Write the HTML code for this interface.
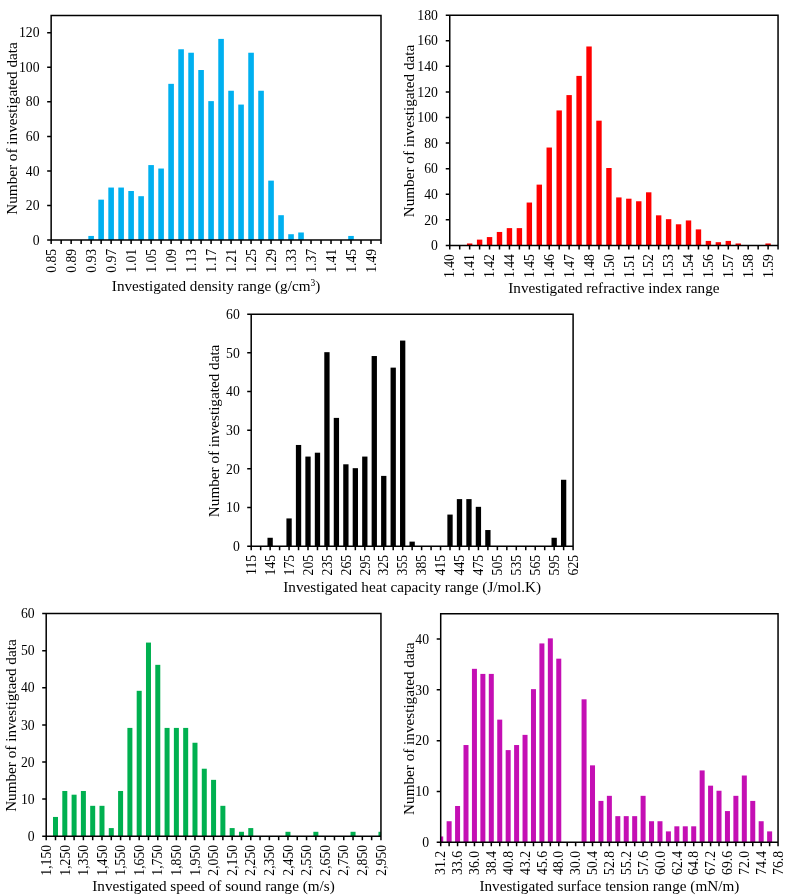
<!DOCTYPE html>
<html><head><meta charset="utf-8"><style>
html,body{margin:0;padding:0;background:#fff;}
svg{display:block;font-family:"Liberation Serif", serif;will-change:transform;}
</style></head><body>
<svg width="794" height="896" viewBox="0 0 794 896">
<rect width="794" height="896" fill="#fff"/>
<clipPath id="clipc1"><rect x="51.15" y="15.4" width="329.85" height="224.7"/></clipPath>
<g fill="#00B0F0" clip-path="url(#clipc1)"><rect x="88.33" y="235.94" width="5.6" height="4.16"/><rect x="98.33" y="199.65" width="5.6" height="40.45"/><rect x="108.32" y="187.55" width="5.6" height="52.55"/><rect x="118.32" y="187.55" width="5.6" height="52.55"/><rect x="128.31" y="191" width="5.6" height="49.1"/><rect x="138.31" y="196.19" width="5.6" height="43.91"/><rect x="148.3" y="165.08" width="5.6" height="75.02"/><rect x="158.3" y="168.53" width="5.6" height="71.57"/><rect x="168.3" y="83.84" width="5.6" height="156.26"/><rect x="178.29" y="49.27" width="5.6" height="190.83"/><rect x="188.29" y="52.73" width="5.6" height="187.37"/><rect x="198.28" y="70.01" width="5.6" height="170.09"/><rect x="208.28" y="101.12" width="5.6" height="138.98"/><rect x="218.27" y="38.9" width="5.6" height="201.2"/><rect x="228.27" y="90.75" width="5.6" height="149.35"/><rect x="238.26" y="104.58" width="5.6" height="135.52"/><rect x="248.26" y="52.73" width="5.6" height="187.37"/><rect x="258.25" y="90.75" width="5.6" height="149.35"/><rect x="268.25" y="180.63" width="5.6" height="59.47"/><rect x="278.25" y="215.2" width="5.6" height="24.9"/><rect x="288.24" y="234.21" width="5.6" height="5.89"/><rect x="298.24" y="232.49" width="5.6" height="7.61"/><rect x="348.21" y="235.94" width="5.6" height="4.16"/></g>
<path d="M51.15 15.4H381V240.1H51.15ZM47.15 240.1H51.15M47.15 205.53H51.15M47.15 170.96H51.15M47.15 136.39H51.15M47.15 101.82H51.15M47.15 67.25H51.15M47.15 32.68H51.15M51.15 240.1V244.1M61.15 240.1V244.1M71.14 240.1V244.1M81.14 240.1V244.1M91.13 240.1V244.1M101.13 240.1V244.1M111.12 240.1V244.1M121.12 240.1V244.1M131.11 240.1V244.1M141.11 240.1V244.1M151.1 240.1V244.1M161.1 240.1V244.1M171.1 240.1V244.1M181.09 240.1V244.1M191.09 240.1V244.1M201.08 240.1V244.1M211.08 240.1V244.1M221.07 240.1V244.1M231.07 240.1V244.1M241.06 240.1V244.1M251.06 240.1V244.1M261.05 240.1V244.1M271.05 240.1V244.1M281.05 240.1V244.1M291.04 240.1V244.1M301.04 240.1V244.1M311.03 240.1V244.1M321.03 240.1V244.1M331.02 240.1V244.1M341.02 240.1V244.1M351.01 240.1V244.1M361.01 240.1V244.1M371 240.1V244.1M381 240.1V244.1" fill="none" stroke="#000" stroke-width="1.5"/>
<g font-size="13.7" fill="#000"><text x="39.5" y="244.75" text-anchor="end">0</text><text x="39.5" y="210.18" text-anchor="end">20</text><text x="39.5" y="175.61" text-anchor="end">40</text><text x="39.5" y="141.04" text-anchor="end">60</text><text x="39.5" y="106.47" text-anchor="end">80</text><text x="39.5" y="71.9" text-anchor="end">100</text><text x="39.5" y="37.33" text-anchor="end">120</text><text transform="translate(55.85 248.8) rotate(-90)" text-anchor="end">0.85</text><text transform="translate(75.84 248.8) rotate(-90)" text-anchor="end">0.89</text><text transform="translate(95.83 248.8) rotate(-90)" text-anchor="end">0.93</text><text transform="translate(115.82 248.8) rotate(-90)" text-anchor="end">0.97</text><text transform="translate(135.81 248.8) rotate(-90)" text-anchor="end">1.01</text><text transform="translate(155.8 248.8) rotate(-90)" text-anchor="end">1.05</text><text transform="translate(175.8 248.8) rotate(-90)" text-anchor="end">1.09</text><text transform="translate(195.79 248.8) rotate(-90)" text-anchor="end">1.13</text><text transform="translate(215.78 248.8) rotate(-90)" text-anchor="end">1.17</text><text transform="translate(235.77 248.8) rotate(-90)" text-anchor="end">1.21</text><text transform="translate(255.76 248.8) rotate(-90)" text-anchor="end">1.25</text><text transform="translate(275.75 248.8) rotate(-90)" text-anchor="end">1.29</text><text transform="translate(295.74 248.8) rotate(-90)" text-anchor="end">1.33</text><text transform="translate(315.73 248.8) rotate(-90)" text-anchor="end">1.37</text><text transform="translate(335.72 248.8) rotate(-90)" text-anchor="end">1.41</text><text transform="translate(355.71 248.8) rotate(-90)" text-anchor="end">1.45</text><text transform="translate(375.7 248.8) rotate(-90)" text-anchor="end">1.49</text></g>
<text x="216.07" y="290.9" text-anchor="middle" font-size="15.2">Investigated density range (g/cm<tspan baseline-shift="super" font-size="9.5">3</tspan>)</text>
<text transform="translate(17 128.45) rotate(-90)" text-anchor="middle" font-size="15.2">Number of investigated data</text>
<clipPath id="clipc2"><rect x="449.75" y="15.2" width="328.3" height="230.25"/></clipPath>
<g fill="#FF0000" clip-path="url(#clipc2)"><rect x="466.95" y="243.47" width="5.4" height="1.98"/><rect x="476.9" y="239.63" width="5.4" height="5.82"/><rect x="486.84" y="237.07" width="5.4" height="8.37"/><rect x="496.79" y="231.96" width="5.4" height="13.49"/><rect x="506.74" y="228.12" width="5.4" height="17.33"/><rect x="516.69" y="228.12" width="5.4" height="17.33"/><rect x="526.64" y="202.54" width="5.4" height="42.91"/><rect x="536.59" y="184.63" width="5.4" height="60.82"/><rect x="546.53" y="147.53" width="5.4" height="97.92"/><rect x="556.48" y="110.44" width="5.4" height="135.01"/><rect x="566.43" y="95.09" width="5.4" height="150.36"/><rect x="576.38" y="75.9" width="5.4" height="169.55"/><rect x="586.33" y="46.48" width="5.4" height="198.97"/><rect x="596.28" y="120.67" width="5.4" height="124.78"/><rect x="606.23" y="168" width="5.4" height="77.45"/><rect x="616.17" y="197.42" width="5.4" height="48.03"/><rect x="626.12" y="198.7" width="5.4" height="46.75"/><rect x="636.07" y="201.26" width="5.4" height="44.19"/><rect x="646.02" y="192.3" width="5.4" height="53.15"/><rect x="655.97" y="215.33" width="5.4" height="30.12"/><rect x="665.92" y="219.17" width="5.4" height="26.28"/><rect x="675.87" y="224.28" width="5.4" height="21.17"/><rect x="685.81" y="220.45" width="5.4" height="25"/><rect x="695.76" y="229.4" width="5.4" height="16.05"/><rect x="705.71" y="240.91" width="5.4" height="4.54"/><rect x="715.66" y="242.19" width="5.4" height="3.26"/><rect x="725.61" y="240.91" width="5.4" height="4.54"/><rect x="735.56" y="243.47" width="5.4" height="1.98"/><rect x="765.4" y="243.47" width="5.4" height="1.98"/></g>
<path d="M449.75 15.2H778.05V245.45H449.75ZM445.75 245.45H449.75M445.75 219.87H449.75M445.75 194.28H449.75M445.75 168.7H449.75M445.75 143.12H449.75M445.75 117.53H449.75M445.75 91.95H449.75M445.75 66.37H449.75M445.75 40.78H449.75M445.75 15.2H449.75M449.75 245.45V249.45M459.7 245.45V249.45M469.65 245.45V249.45M479.6 245.45V249.45M489.54 245.45V249.45M499.49 245.45V249.45M509.44 245.45V249.45M519.39 245.45V249.45M529.34 245.45V249.45M539.29 245.45V249.45M549.23 245.45V249.45M559.18 245.45V249.45M569.13 245.45V249.45M579.08 245.45V249.45M589.03 245.45V249.45M598.98 245.45V249.45M608.93 245.45V249.45M618.87 245.45V249.45M628.82 245.45V249.45M638.77 245.45V249.45M648.72 245.45V249.45M658.67 245.45V249.45M668.62 245.45V249.45M678.57 245.45V249.45M688.51 245.45V249.45M698.46 245.45V249.45M708.41 245.45V249.45M718.36 245.45V249.45M728.31 245.45V249.45M738.26 245.45V249.45M748.2 245.45V249.45M758.15 245.45V249.45M768.1 245.45V249.45M778.05 245.45V249.45" fill="none" stroke="#000" stroke-width="1.5"/>
<g font-size="13.7" fill="#000"><text x="437.9" y="250.1" text-anchor="end">0</text><text x="437.9" y="224.52" text-anchor="end">20</text><text x="437.9" y="198.93" text-anchor="end">40</text><text x="437.9" y="173.35" text-anchor="end">60</text><text x="437.9" y="147.77" text-anchor="end">80</text><text x="437.9" y="122.18" text-anchor="end">100</text><text x="437.9" y="96.6" text-anchor="end">120</text><text x="437.9" y="71.02" text-anchor="end">140</text><text x="437.9" y="45.43" text-anchor="end">160</text><text x="437.9" y="19.85" text-anchor="end">180</text><text transform="translate(454.45 254.15) rotate(-90)" text-anchor="end">1.40</text><text transform="translate(474.35 254.15) rotate(-90)" text-anchor="end">1.41</text><text transform="translate(494.24 254.15) rotate(-90)" text-anchor="end">1.42</text><text transform="translate(514.14 254.15) rotate(-90)" text-anchor="end">1.44</text><text transform="translate(534.04 254.15) rotate(-90)" text-anchor="end">1.45</text><text transform="translate(553.93 254.15) rotate(-90)" text-anchor="end">1.46</text><text transform="translate(573.83 254.15) rotate(-90)" text-anchor="end">1.47</text><text transform="translate(593.73 254.15) rotate(-90)" text-anchor="end">1.48</text><text transform="translate(613.63 254.15) rotate(-90)" text-anchor="end">1.50</text><text transform="translate(633.52 254.15) rotate(-90)" text-anchor="end">1.51</text><text transform="translate(653.42 254.15) rotate(-90)" text-anchor="end">1.52</text><text transform="translate(673.32 254.15) rotate(-90)" text-anchor="end">1.53</text><text transform="translate(693.21 254.15) rotate(-90)" text-anchor="end">1.54</text><text transform="translate(713.11 254.15) rotate(-90)" text-anchor="end">1.56</text><text transform="translate(733.01 254.15) rotate(-90)" text-anchor="end">1.57</text><text transform="translate(752.9 254.15) rotate(-90)" text-anchor="end">1.58</text><text transform="translate(772.8 254.15) rotate(-90)" text-anchor="end">1.59</text></g>
<text x="613.9" y="292.7" text-anchor="middle" font-size="15.2">Investigated refractive index range</text>
<text transform="translate(413.7 131.02) rotate(-90)" text-anchor="middle" font-size="15.2">Number of investigated data</text>
<clipPath id="clipc3"><rect x="251.2" y="314.2" width="321.9" height="232"/></clipPath>
<g fill="#000000" clip-path="url(#clipc3)"><rect x="267.49" y="537.77" width="5.3" height="8.43"/><rect x="286.42" y="518.43" width="5.3" height="27.77"/><rect x="295.89" y="444.97" width="5.3" height="101.23"/><rect x="305.36" y="456.57" width="5.3" height="89.63"/><rect x="314.82" y="452.7" width="5.3" height="93.5"/><rect x="324.29" y="352.17" width="5.3" height="194.03"/><rect x="333.76" y="417.9" width="5.3" height="128.3"/><rect x="343.23" y="464.3" width="5.3" height="81.9"/><rect x="352.69" y="468.17" width="5.3" height="78.03"/><rect x="362.16" y="456.57" width="5.3" height="89.63"/><rect x="371.63" y="356.03" width="5.3" height="190.17"/><rect x="381.1" y="475.9" width="5.3" height="70.3"/><rect x="390.56" y="367.63" width="5.3" height="178.57"/><rect x="400.03" y="340.57" width="5.3" height="205.63"/><rect x="409.5" y="541.63" width="5.3" height="4.57"/><rect x="447.37" y="514.57" width="5.3" height="31.63"/><rect x="456.84" y="499.1" width="5.3" height="47.1"/><rect x="466.31" y="499.1" width="5.3" height="47.1"/><rect x="475.77" y="506.83" width="5.3" height="39.37"/><rect x="485.24" y="530.03" width="5.3" height="16.17"/><rect x="551.51" y="537.77" width="5.3" height="8.43"/><rect x="560.98" y="479.77" width="5.3" height="66.43"/></g>
<path d="M251.2 314.2H573.1V546.2H251.2ZM247.2 546.2H251.2M247.2 507.53H251.2M247.2 468.87H251.2M247.2 430.2H251.2M247.2 391.53H251.2M247.2 352.87H251.2M247.2 314.2H251.2M251.2 546.2V550.2M260.67 546.2V550.2M270.14 546.2V550.2M279.6 546.2V550.2M289.07 546.2V550.2M298.54 546.2V550.2M308.01 546.2V550.2M317.47 546.2V550.2M326.94 546.2V550.2M336.41 546.2V550.2M345.88 546.2V550.2M355.34 546.2V550.2M364.81 546.2V550.2M374.28 546.2V550.2M383.75 546.2V550.2M393.21 546.2V550.2M402.68 546.2V550.2M412.15 546.2V550.2M421.62 546.2V550.2M431.09 546.2V550.2M440.55 546.2V550.2M450.02 546.2V550.2M459.49 546.2V550.2M468.96 546.2V550.2M478.42 546.2V550.2M487.89 546.2V550.2M497.36 546.2V550.2M506.83 546.2V550.2M516.29 546.2V550.2M525.76 546.2V550.2M535.23 546.2V550.2M544.7 546.2V550.2M554.16 546.2V550.2M563.63 546.2V550.2M573.1 546.2V550.2" fill="none" stroke="#000" stroke-width="1.5"/>
<g font-size="13.7" fill="#000"><text x="239.8" y="550.85" text-anchor="end">0</text><text x="239.8" y="512.18" text-anchor="end">10</text><text x="239.8" y="473.52" text-anchor="end">20</text><text x="239.8" y="434.85" text-anchor="end">30</text><text x="239.8" y="396.18" text-anchor="end">40</text><text x="239.8" y="357.52" text-anchor="end">50</text><text x="239.8" y="318.85" text-anchor="end">60</text><text transform="translate(255.9 554.9) rotate(-90)" text-anchor="end">115</text><text transform="translate(274.84 554.9) rotate(-90)" text-anchor="end">145</text><text transform="translate(293.77 554.9) rotate(-90)" text-anchor="end">175</text><text transform="translate(312.71 554.9) rotate(-90)" text-anchor="end">205</text><text transform="translate(331.64 554.9) rotate(-90)" text-anchor="end">235</text><text transform="translate(350.58 554.9) rotate(-90)" text-anchor="end">265</text><text transform="translate(369.51 554.9) rotate(-90)" text-anchor="end">295</text><text transform="translate(388.45 554.9) rotate(-90)" text-anchor="end">325</text><text transform="translate(407.38 554.9) rotate(-90)" text-anchor="end">355</text><text transform="translate(426.32 554.9) rotate(-90)" text-anchor="end">385</text><text transform="translate(445.25 554.9) rotate(-90)" text-anchor="end">415</text><text transform="translate(464.19 554.9) rotate(-90)" text-anchor="end">445</text><text transform="translate(483.12 554.9) rotate(-90)" text-anchor="end">475</text><text transform="translate(502.06 554.9) rotate(-90)" text-anchor="end">505</text><text transform="translate(520.99 554.9) rotate(-90)" text-anchor="end">535</text><text transform="translate(539.93 554.9) rotate(-90)" text-anchor="end">565</text><text transform="translate(558.86 554.9) rotate(-90)" text-anchor="end">595</text><text transform="translate(577.8 554.9) rotate(-90)" text-anchor="end">625</text></g>
<text x="412.15" y="591.8" text-anchor="middle" font-size="15.2">Investigated heat capacity range (J/mol.K)</text>
<text transform="translate(218.5 430.9) rotate(-90)" text-anchor="middle" font-size="15.2">Number of investigated data</text>
<clipPath id="clipc4"><rect x="46.2" y="613.6" width="334.75" height="222.6"/></clipPath>
<g fill="#00B050" clip-path="url(#clipc4)"><rect x="53" y="816.95" width="5" height="19.25"/><rect x="62.3" y="790.98" width="5" height="45.22"/><rect x="71.6" y="794.69" width="5" height="41.51"/><rect x="80.89" y="790.98" width="5" height="45.22"/><rect x="90.19" y="805.82" width="5" height="30.38"/><rect x="99.49" y="805.82" width="5" height="30.38"/><rect x="108.79" y="828.08" width="5" height="8.12"/><rect x="118.09" y="790.98" width="5" height="45.22"/><rect x="127.39" y="727.91" width="5" height="108.29"/><rect x="136.69" y="690.81" width="5" height="145.39"/><rect x="145.98" y="642.58" width="5" height="193.62"/><rect x="155.28" y="664.84" width="5" height="171.36"/><rect x="164.58" y="727.91" width="5" height="108.29"/><rect x="173.88" y="727.91" width="5" height="108.29"/><rect x="183.18" y="727.91" width="5" height="108.29"/><rect x="192.48" y="742.75" width="5" height="93.45"/><rect x="201.78" y="768.72" width="5" height="67.48"/><rect x="211.07" y="779.85" width="5" height="56.35"/><rect x="220.37" y="805.82" width="5" height="30.38"/><rect x="229.67" y="828.08" width="5" height="8.12"/><rect x="238.97" y="831.79" width="5" height="4.41"/><rect x="248.27" y="828.08" width="5" height="8.12"/><rect x="285.46" y="831.79" width="5" height="4.41"/><rect x="313.36" y="831.79" width="5" height="4.41"/><rect x="350.55" y="831.79" width="5" height="4.41"/><rect x="378.45" y="831.79" width="5" height="4.41"/></g>
<path d="M46.2 613.6H380.95V836.2H46.2ZM42.2 836.2H46.2M42.2 799.1H46.2M42.2 762H46.2M42.2 724.9H46.2M42.2 687.8H46.2M42.2 650.7H46.2M42.2 613.6H46.2M46.2 836.2V840.2M55.5 836.2V840.2M64.8 836.2V840.2M74.1 836.2V840.2M83.39 836.2V840.2M92.69 836.2V840.2M101.99 836.2V840.2M111.29 836.2V840.2M120.59 836.2V840.2M129.89 836.2V840.2M139.19 836.2V840.2M148.48 836.2V840.2M157.78 836.2V840.2M167.08 836.2V840.2M176.38 836.2V840.2M185.68 836.2V840.2M194.98 836.2V840.2M204.28 836.2V840.2M213.57 836.2V840.2M222.87 836.2V840.2M232.17 836.2V840.2M241.47 836.2V840.2M250.77 836.2V840.2M260.07 836.2V840.2M269.37 836.2V840.2M278.67 836.2V840.2M287.96 836.2V840.2M297.26 836.2V840.2M306.56 836.2V840.2M315.86 836.2V840.2M325.16 836.2V840.2M334.46 836.2V840.2M343.76 836.2V840.2M353.05 836.2V840.2M362.35 836.2V840.2M371.65 836.2V840.2M380.95 836.2V840.2" fill="none" stroke="#000" stroke-width="1.5"/>
<g font-size="13.7" fill="#000"><text x="34.6" y="840.85" text-anchor="end">0</text><text x="34.6" y="803.75" text-anchor="end">10</text><text x="34.6" y="766.65" text-anchor="end">20</text><text x="34.6" y="729.55" text-anchor="end">30</text><text x="34.6" y="692.45" text-anchor="end">40</text><text x="34.6" y="655.35" text-anchor="end">50</text><text x="34.6" y="618.25" text-anchor="end">60</text><text transform="translate(50.9 844.9) rotate(-90)" text-anchor="end">1,150</text><text transform="translate(69.5 844.9) rotate(-90)" text-anchor="end">1,250</text><text transform="translate(88.09 844.9) rotate(-90)" text-anchor="end">1,350</text><text transform="translate(106.69 844.9) rotate(-90)" text-anchor="end">1,450</text><text transform="translate(125.29 844.9) rotate(-90)" text-anchor="end">1,550</text><text transform="translate(143.89 844.9) rotate(-90)" text-anchor="end">1,650</text><text transform="translate(162.48 844.9) rotate(-90)" text-anchor="end">1,750</text><text transform="translate(181.08 844.9) rotate(-90)" text-anchor="end">1,850</text><text transform="translate(199.68 844.9) rotate(-90)" text-anchor="end">1,950</text><text transform="translate(218.27 844.9) rotate(-90)" text-anchor="end">2,050</text><text transform="translate(236.87 844.9) rotate(-90)" text-anchor="end">2,150</text><text transform="translate(255.47 844.9) rotate(-90)" text-anchor="end">2,250</text><text transform="translate(274.07 844.9) rotate(-90)" text-anchor="end">2,350</text><text transform="translate(292.66 844.9) rotate(-90)" text-anchor="end">2,450</text><text transform="translate(311.26 844.9) rotate(-90)" text-anchor="end">2,550</text><text transform="translate(329.86 844.9) rotate(-90)" text-anchor="end">2,650</text><text transform="translate(348.46 844.9) rotate(-90)" text-anchor="end">2,750</text><text transform="translate(367.05 844.9) rotate(-90)" text-anchor="end">2,850</text><text transform="translate(385.65 844.9) rotate(-90)" text-anchor="end">2,950</text></g>
<text x="213.57" y="890.7" text-anchor="middle" font-size="15.2">Investigated speed of sound range (m/s)</text>
<text transform="translate(16 725.6) rotate(-90)" text-anchor="middle" font-size="15.2">Number of investigtaed data</text>
<clipPath id="clipc5"><rect x="440.7" y="613.65" width="337.35" height="228.6"/></clipPath>
<g fill="#C40FB4" clip-path="url(#clipc5)"><rect x="438.2" y="836.47" width="5" height="5.78"/><rect x="446.63" y="821.23" width="5" height="21.02"/><rect x="455.07" y="805.99" width="5" height="36.26"/><rect x="463.5" y="745.03" width="5" height="97.22"/><rect x="471.94" y="668.83" width="5" height="173.42"/><rect x="480.37" y="673.91" width="5" height="168.34"/><rect x="488.8" y="673.91" width="5" height="168.34"/><rect x="497.24" y="719.63" width="5" height="122.62"/><rect x="505.67" y="750.11" width="5" height="92.14"/><rect x="514.1" y="745.03" width="5" height="97.22"/><rect x="522.54" y="734.87" width="5" height="107.38"/><rect x="530.97" y="689.15" width="5" height="153.1"/><rect x="539.4" y="643.43" width="5" height="198.82"/><rect x="547.84" y="638.35" width="5" height="203.9"/><rect x="556.27" y="658.67" width="5" height="183.58"/><rect x="581.57" y="699.31" width="5" height="142.94"/><rect x="590.01" y="765.35" width="5" height="76.9"/><rect x="598.44" y="800.91" width="5" height="41.34"/><rect x="606.88" y="795.83" width="5" height="46.42"/><rect x="615.31" y="816.15" width="5" height="26.1"/><rect x="623.74" y="816.15" width="5" height="26.1"/><rect x="632.18" y="816.15" width="5" height="26.1"/><rect x="640.61" y="795.83" width="5" height="46.42"/><rect x="649.04" y="821.23" width="5" height="21.02"/><rect x="657.48" y="821.23" width="5" height="21.02"/><rect x="665.91" y="831.39" width="5" height="10.86"/><rect x="674.35" y="826.31" width="5" height="15.94"/><rect x="682.78" y="826.31" width="5" height="15.94"/><rect x="691.21" y="826.31" width="5" height="15.94"/><rect x="699.65" y="770.43" width="5" height="71.82"/><rect x="708.08" y="785.67" width="5" height="56.58"/><rect x="716.51" y="790.75" width="5" height="51.5"/><rect x="724.95" y="811.07" width="5" height="31.18"/><rect x="733.38" y="795.83" width="5" height="46.42"/><rect x="741.82" y="775.51" width="5" height="66.74"/><rect x="750.25" y="800.91" width="5" height="41.34"/><rect x="758.68" y="821.23" width="5" height="21.02"/><rect x="767.12" y="831.39" width="5" height="10.86"/></g>
<path d="M440.7 613.65H778.05V842.25H440.7ZM436.7 842.25H440.7M436.7 791.45H440.7M436.7 740.65H440.7M436.7 689.85H440.7M436.7 639.05H440.7M440.7 842.25V846.25M449.13 842.25V846.25M457.57 842.25V846.25M466 842.25V846.25M474.44 842.25V846.25M482.87 842.25V846.25M491.3 842.25V846.25M499.74 842.25V846.25M508.17 842.25V846.25M516.6 842.25V846.25M525.04 842.25V846.25M533.47 842.25V846.25M541.9 842.25V846.25M550.34 842.25V846.25M558.77 842.25V846.25M567.21 842.25V846.25M575.64 842.25V846.25M584.07 842.25V846.25M592.51 842.25V846.25M600.94 842.25V846.25M609.38 842.25V846.25M617.81 842.25V846.25M626.24 842.25V846.25M634.68 842.25V846.25M643.11 842.25V846.25M651.54 842.25V846.25M659.98 842.25V846.25M668.41 842.25V846.25M676.85 842.25V846.25M685.28 842.25V846.25M693.71 842.25V846.25M702.15 842.25V846.25M710.58 842.25V846.25M719.01 842.25V846.25M727.45 842.25V846.25M735.88 842.25V846.25M744.32 842.25V846.25M752.75 842.25V846.25M761.18 842.25V846.25M769.62 842.25V846.25M778.05 842.25V846.25" fill="none" stroke="#000" stroke-width="1.5"/>
<g font-size="13.7" fill="#000"><text x="429" y="846.9" text-anchor="end">0</text><text x="429" y="796.1" text-anchor="end">10</text><text x="429" y="745.3" text-anchor="end">20</text><text x="429" y="694.5" text-anchor="end">30</text><text x="429" y="643.7" text-anchor="end">40</text><text transform="translate(445.4 850.95) rotate(-90)" text-anchor="end">31.2</text><text transform="translate(462.27 850.95) rotate(-90)" text-anchor="end">33.6</text><text transform="translate(479.13 850.95) rotate(-90)" text-anchor="end">36.0</text><text transform="translate(496 850.95) rotate(-90)" text-anchor="end">38.4</text><text transform="translate(512.87 850.95) rotate(-90)" text-anchor="end">40.8</text><text transform="translate(529.74 850.95) rotate(-90)" text-anchor="end">43.2</text><text transform="translate(546.61 850.95) rotate(-90)" text-anchor="end">45.6</text><text transform="translate(563.47 850.95) rotate(-90)" text-anchor="end">48.0</text><text transform="translate(580.34 850.95) rotate(-90)" text-anchor="end">30.0</text><text transform="translate(597.21 850.95) rotate(-90)" text-anchor="end">50.4</text><text transform="translate(614.08 850.95) rotate(-90)" text-anchor="end">52.8</text><text transform="translate(630.94 850.95) rotate(-90)" text-anchor="end">55.2</text><text transform="translate(647.81 850.95) rotate(-90)" text-anchor="end">57.6</text><text transform="translate(664.68 850.95) rotate(-90)" text-anchor="end">60.0</text><text transform="translate(681.55 850.95) rotate(-90)" text-anchor="end">62.4</text><text transform="translate(698.41 850.95) rotate(-90)" text-anchor="end">64.8</text><text transform="translate(715.28 850.95) rotate(-90)" text-anchor="end">67.2</text><text transform="translate(732.15 850.95) rotate(-90)" text-anchor="end">69.6</text><text transform="translate(749.02 850.95) rotate(-90)" text-anchor="end">72.0</text><text transform="translate(765.88 850.95) rotate(-90)" text-anchor="end">74.4</text><text transform="translate(782.75 850.95) rotate(-90)" text-anchor="end">76.8</text></g>
<text x="609.38" y="890.6" text-anchor="middle" font-size="15.2">Investigated surface tension range (mN/m)</text>
<text transform="translate(413.7 728.65) rotate(-90)" text-anchor="middle" font-size="15.2">Number of investigated data</text>
</svg>
</body></html>
